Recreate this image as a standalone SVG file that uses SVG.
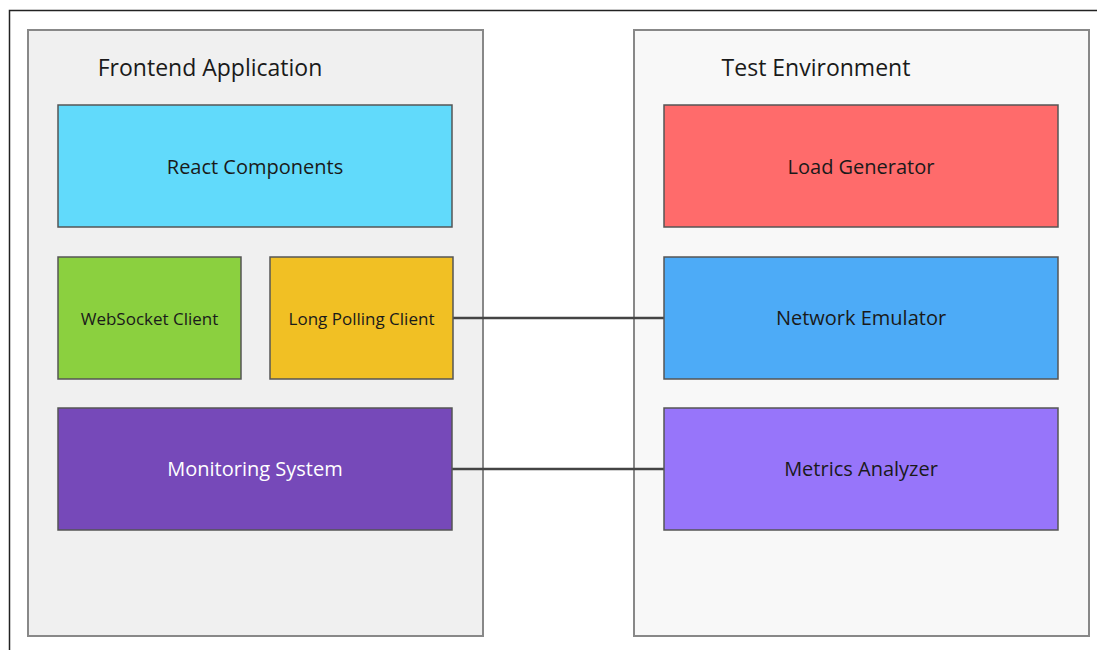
<svg xmlns="http://www.w3.org/2000/svg" width="1097" height="650" viewBox="0 0 1097 650">
<style>
.cont{stroke:#888;stroke-width:2}
.node{stroke:#555;stroke-width:1.5}
.t{font-family:"Open Sans","Noto Sans",sans-serif;text-anchor:middle;fill:#1a1a1a}
.title{font-size:23px}
.lbl{font-size:20px}
.sm{font-size:17px}
.conn{stroke:#444;stroke-width:2.5;fill:none}
</style>
<rect x="0" y="0" width="1097" height="650" fill="#ffffff"/>
<rect x="9.5" y="10.5" width="1200" height="700" fill="none" stroke="#222" stroke-width="1.5"/>
<g id="frontend">
<rect class="cont" x="28" y="30" width="455" height="606" fill="#f0f0f0"/>
<text class="t title" x="210" y="76">Frontend Application</text>
</g>
<g id="testenv">
<rect class="cont" x="634" y="30" width="455" height="606" fill="#f8f8f8"/>
<text class="t title" x="816" y="76">Test Environment</text>
</g>
<g id="connectors">
<line class="conn" x1="453" y1="318" x2="664" y2="318"/>
<line class="conn" x1="452" y1="469" x2="664" y2="469"/>
</g>
<g id="react">
<rect class="node" x="58" y="105" width="394" height="122" fill="#61dafb"/>
<text class="t lbl" x="255" y="174">React Components</text>
</g>
<g id="websocket">
<rect class="node" x="58" y="257" width="183" height="122" fill="#8bd03f"/>
<text class="t sm" x="149.5" y="325">WebSocket Client</text>
</g>
<g id="longpolling">
<rect class="node" x="270" y="257" width="183" height="122" fill="#f1c024"/>
<text class="t sm" x="361.5" y="325">Long Polling Client</text>
</g>
<g id="monitoring">
<rect class="node" x="58" y="408" width="394" height="122" fill="#7649b9"/>
<text class="t lbl" x="255" y="476" style="fill:#ffffff">Monitoring System</text>
</g>
<g id="loadgen">
<rect class="node" x="664" y="105" width="394" height="122" fill="#ff6b6b"/>
<text class="t lbl" x="861" y="174">Load Generator</text>
</g>
<g id="netemu">
<rect class="node" x="664" y="257" width="394" height="122" fill="#4dabf7"/>
<text class="t lbl" x="861" y="325">Network Emulator</text>
</g>
<g id="metrics">
<rect class="node" x="664" y="408" width="394" height="122" fill="#9775fa"/>
<text class="t lbl" x="861" y="476">Metrics Analyzer</text>
</g>
</svg>
